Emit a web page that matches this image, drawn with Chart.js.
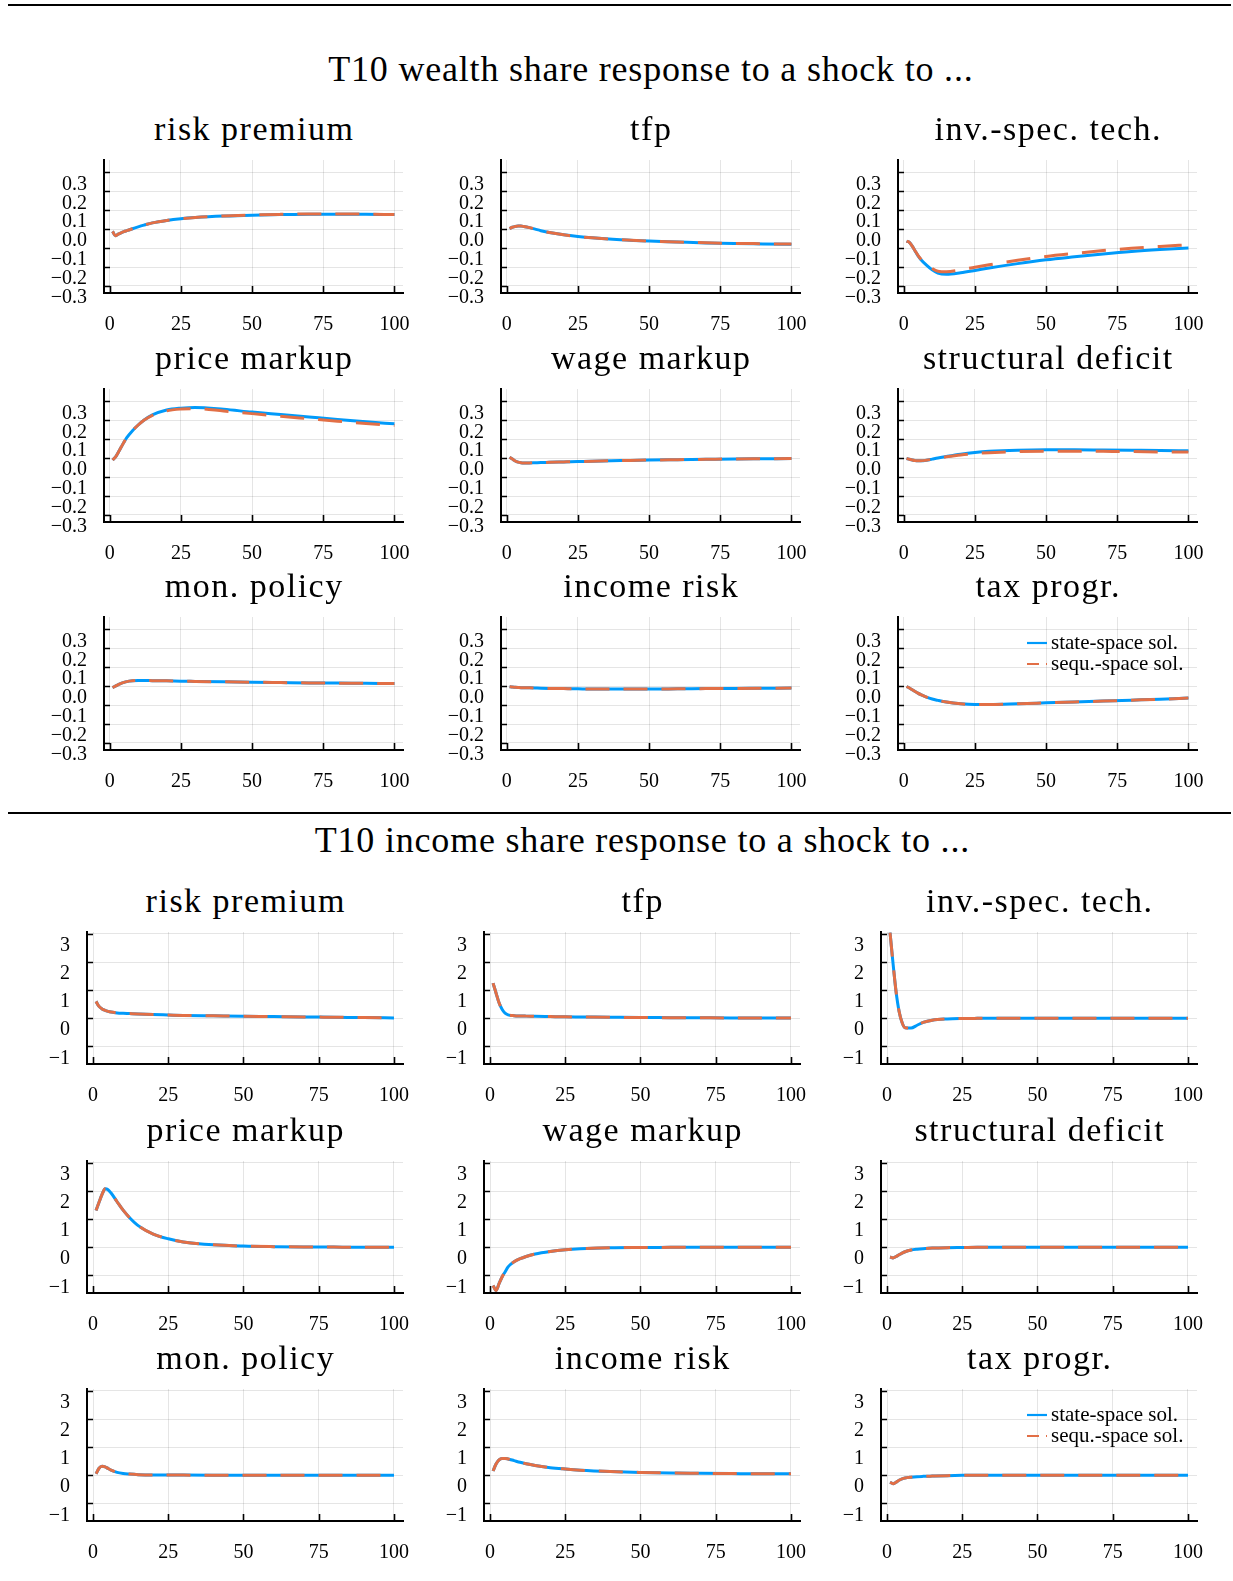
<!DOCTYPE html>
<html>
<head>
<meta charset="utf-8">
<script src="https://cdn.jsdelivr.net/npm/chart.js@4.4.1/dist/chart.umd.min.js"></script>
<style>
  html, body { margin: 0; padding: 0; background: #fff; }
  #fig { position: relative; width: 1233px; height: 1581px; overflow: hidden; background: #fff; }
  .rule { position: absolute; height: 2px; background: #000; }
  .t { position: absolute; font-family: 'Liberation Serif', serif; color: #000; text-align: center;
       white-space: nowrap; line-height: 1; }
  canvas { position: absolute; }
</style>
</head>
<body>
<div id="fig"></div>
<script>
// ---- horizons (quarters after the shock) ----
const horizon = [1, 2, 3, 4, 5, 6, 8, 10, 12, 15, 20, 25, 30, 40, 50, 60, 70, 80, 90, 100];

// ---- axis ticks ----
const xTicks = [0, 25, 50, 75, 100];
const xTickLabels = ['0', '25', '50', '75', '100'];
const wealthYTicks = [-0.3, -0.2, -0.1, 0.0, 0.1, 0.2, 0.3];
const wealthYTickLabels = ['\u22120.3', '\u22120.2', '\u22120.1', '0.0', '0.1', '0.2', '0.3'];
const incomeYTicks = [-1, 0, 1, 2, 3];
const incomeYTickLabels = ['\u22121', '0', '1', '2', '3'];

// ---- shock names ----
const shockNames = ['risk premium', 'tfp', 'inv.-spec. tech.', 'price markup', 'wage markup',
                    'structural deficit', 'mon. policy', 'income risk', 'tax progr.'];
const seriesNames = ['state-space sol.', 'sequ.-space sol.'];
const sectionTitles = ['T10 wealth share response to a shock to ...', 'T10 income share response to a shock to ...'];

// ---- T10 wealth share responses ----
const wRiskPremiumState = [-0.012, -0.035, -0.026, -0.019, -0.013, -0.008, 0.002, 0.012, 0.021, 0.033, 0.046, 0.055, 0.061, 0.069, 0.074, 0.077, 0.079, 0.079, 0.078, 0.077];
const wRiskPremiumSequ  = [-0.012, -0.035, -0.026, -0.019, -0.013, -0.008, 0.002, 0.012, 0.021, 0.033, 0.046, 0.055, 0.062, 0.070, 0.075, 0.078, 0.080, 0.080, 0.079, 0.077];
const wTfpState = [0.003, 0.010, 0.014, 0.016, 0.016, 0.014, 0.008, 0.000, -0.008, -0.018, -0.030, -0.039, -0.046, -0.056, -0.063, -0.068, -0.073, -0.076, -0.078, -0.080];
const wTfpSequ  = [0.003, 0.010, 0.014, 0.016, 0.016, 0.014, 0.008, 0.000, -0.008, -0.018, -0.030, -0.039, -0.046, -0.056, -0.063, -0.068, -0.072, -0.075, -0.077, -0.079];
const wInvTechState = [-0.063, -0.070, -0.090, -0.115, -0.140, -0.160, -0.190, -0.215, -0.232, -0.238, -0.230, -0.218, -0.205, -0.182, -0.162, -0.146, -0.131, -0.118, -0.108, -0.100];
const wInvTechSequ  = [-0.063, -0.070, -0.090, -0.114, -0.138, -0.157, -0.186, -0.208, -0.222, -0.225, -0.215, -0.201, -0.188, -0.164, -0.144, -0.128, -0.113, -0.101, -0.091, -0.083];
const wPriceMarkupState = [-0.010, 0.005, 0.030, 0.057, 0.084, 0.108, 0.145, 0.175, 0.200, 0.228, 0.254, 0.264, 0.268, 0.258, 0.243, 0.230, 0.217, 0.204, 0.192, 0.181];
const wPriceMarkupSequ  = [-0.010, 0.005, 0.030, 0.057, 0.084, 0.108, 0.145, 0.175, 0.200, 0.226, 0.250, 0.259, 0.261, 0.249, 0.235, 0.221, 0.208, 0.195, 0.183, 0.172];
const wWageMarkupState = [0.005, -0.005, -0.015, -0.021, -0.024, -0.025, -0.025, -0.024, -0.023, -0.022, -0.020, -0.018, -0.016, -0.013, -0.010, -0.008, -0.006, -0.004, -0.003, -0.002];
const wWageMarkupSequ  = [0.005, -0.005, -0.015, -0.021, -0.024, -0.025, -0.025, -0.024, -0.023, -0.022, -0.020, -0.018, -0.016, -0.013, -0.010, -0.008, -0.006, -0.004, -0.003, -0.002];
const wDeficitState = [-0.002, -0.006, -0.010, -0.013, -0.014, -0.014, -0.011, -0.005, 0.001, 0.009, 0.021, 0.030, 0.036, 0.042, 0.044, 0.044, 0.043, 0.042, 0.041, 0.039];
const wDeficitSequ  = [-0.002, -0.006, -0.010, -0.013, -0.014, -0.014, -0.011, -0.006, 0.000, 0.007, 0.017, 0.024, 0.029, 0.035, 0.037, 0.037, 0.036, 0.035, 0.033, 0.032];
const wMonPolicyState = [-0.008, 0.000, 0.008, 0.015, 0.020, 0.024, 0.028, 0.030, 0.030, 0.029, 0.028, 0.026, 0.025, 0.023, 0.021, 0.019, 0.017, 0.016, 0.015, 0.014];
const wMonPolicySequ  = [-0.008, 0.000, 0.008, 0.015, 0.020, 0.024, 0.028, 0.030, 0.030, 0.029, 0.028, 0.026, 0.025, 0.023, 0.021, 0.019, 0.017, 0.016, 0.015, 0.014];
const wIncomeRiskState = [-0.003, -0.005, -0.006, -0.007, -0.008, -0.008, -0.009, -0.010, -0.011, -0.012, -0.013, -0.014, -0.015, -0.015, -0.015, -0.014, -0.013, -0.012, -0.011, -0.010];
const wIncomeRiskSequ  = [-0.003, -0.005, -0.006, -0.007, -0.008, -0.008, -0.009, -0.010, -0.011, -0.012, -0.013, -0.014, -0.015, -0.015, -0.015, -0.014, -0.013, -0.012, -0.011, -0.010];
const wTaxProgState = [-0.002, -0.010, -0.019, -0.028, -0.037, -0.045, -0.058, -0.068, -0.075, -0.084, -0.093, -0.097, -0.097, -0.093, -0.088, -0.083, -0.079, -0.074, -0.069, -0.063];
const wTaxProgSequ  = [-0.002, -0.010, -0.019, -0.028, -0.037, -0.045, -0.058, -0.068, -0.075, -0.084, -0.093, -0.097, -0.097, -0.093, -0.088, -0.083, -0.079, -0.074, -0.069, -0.063];

// ---- T10 income share responses ----
const iRiskPremiumState = [0.60, 0.42, 0.33, 0.28, 0.245, 0.22, 0.19, 0.175, 0.165, 0.15, 0.13, 0.115, 0.10, 0.085, 0.07, 0.058, 0.045, 0.035, 0.022, 0.012];
const iRiskPremiumSequ  = [0.60, 0.42, 0.33, 0.28, 0.245, 0.22, 0.19, 0.175, 0.165, 0.15, 0.13, 0.115, 0.10, 0.085, 0.07, 0.058, 0.045, 0.035, 0.022, 0.012];
const iTfpState = [1.25, 0.90, 0.55, 0.32, 0.18, 0.12, 0.09, 0.08, 0.075, 0.07, 0.06, 0.05, 0.045, 0.035, 0.025, 0.02, 0.015, 0.01, 0.01, 0.005];
const iTfpSequ  = [1.25, 0.90, 0.55, 0.32, 0.18, 0.12, 0.09, 0.08, 0.075, 0.07, 0.06, 0.05, 0.045, 0.035, 0.025, 0.02, 0.015, 0.01, 0.01, 0.005];
const iInvTechState = [3.05, 1.95, 0.95, 0.25, -0.15, -0.34, -0.35, -0.25, -0.15, -0.07, -0.025, -0.01, -0.005, 0, 0, 0, 0, 0, 0, 0];
const iInvTechSequ  = [3.05, 1.95, 0.95, 0.25, -0.15, -0.34, -0.35, -0.25, -0.15, -0.07, -0.025, -0.01, -0.005, 0, 0, 0, 0, 0, 0, 0];
const iPriceMarkupState = [1.31, 1.60, 1.88, 2.08, 2.05, 1.93, 1.62, 1.32, 1.07, 0.77, 0.47, 0.30, 0.19, 0.085, 0.04, 0.02, 0.01, 0.005, 0, 0];
const iPriceMarkupSequ  = [1.31, 1.60, 1.88, 2.08, 2.05, 1.93, 1.62, 1.32, 1.07, 0.77, 0.47, 0.30, 0.19, 0.085, 0.04, 0.02, 0.01, 0.005, 0, 0];
const iWageMarkupState = [-1.36, -1.54, -1.30, -1.06, -0.88, -0.70, -0.52, -0.41, -0.33, -0.24, -0.15, -0.09, -0.055, -0.02, -0.01, -0.005, 0, 0, 0, 0];
const iWageMarkupSequ  = [-1.36, -1.54, -1.30, -1.06, -0.88, -0.70, -0.52, -0.41, -0.33, -0.24, -0.15, -0.09, -0.055, -0.02, -0.01, -0.005, 0, 0, 0, 0];
const iDeficitState = [-0.35, -0.38, -0.33, -0.27, -0.21, -0.16, -0.10, -0.07, -0.05, -0.03, -0.015, -0.01, -0.005, 0, 0, 0, 0, 0, 0, 0];
const iDeficitSequ  = [-0.35, -0.38, -0.33, -0.27, -0.21, -0.16, -0.10, -0.07, -0.05, -0.03, -0.015, -0.01, -0.005, 0, 0, 0, 0, 0, 0, 0];
const iMonPolicyState = [0.05, 0.25, 0.32, 0.30, 0.24, 0.18, 0.10, 0.06, 0.04, 0.02, 0.01, 0.01, 0.005, 0, 0, 0, 0, 0, 0, 0];
const iMonPolicySequ  = [0.05, 0.25, 0.32, 0.30, 0.24, 0.18, 0.10, 0.06, 0.04, 0.02, 0.01, 0.01, 0.005, 0, 0, 0, 0, 0, 0, 0];
const iIncomeRiskState = [0.15, 0.40, 0.55, 0.60, 0.60, 0.58, 0.52, 0.46, 0.41, 0.35, 0.27, 0.22, 0.18, 0.13, 0.10, 0.08, 0.07, 0.06, 0.05, 0.05];
const iIncomeRiskSequ  = [0.15, 0.40, 0.55, 0.60, 0.60, 0.58, 0.52, 0.46, 0.41, 0.35, 0.27, 0.22, 0.18, 0.13, 0.10, 0.08, 0.07, 0.06, 0.05, 0.05];
const iTaxProgState = [-0.25, -0.30, -0.25, -0.18, -0.13, -0.10, -0.07, -0.05, -0.04, -0.03, -0.015, -0.005, 0, 0, 0, 0, 0, 0, 0, 0];
const iTaxProgSequ  = [-0.25, -0.30, -0.25, -0.18, -0.13, -0.10, -0.07, -0.05, -0.04, -0.03, -0.015, -0.005, 0, 0, 0, 0, 0, 0, 0, 0];

const wealthSeries = [
  [wRiskPremiumState, wRiskPremiumSequ], [wTfpState, wTfpSequ], [wInvTechState, wInvTechSequ],
  [wPriceMarkupState, wPriceMarkupSequ], [wWageMarkupState, wWageMarkupSequ], [wDeficitState, wDeficitSequ],
  [wMonPolicyState, wMonPolicySequ], [wIncomeRiskState, wIncomeRiskSequ], [wTaxProgState, wTaxProgSequ]
];
const incomeSeries = [
  [iRiskPremiumState, iRiskPremiumSequ], [iTfpState, iTfpSequ], [iInvTechState, iInvTechSequ],
  [iPriceMarkupState, iPriceMarkupSequ], [iWageMarkupState, iWageMarkupSequ], [iDeficitState, iDeficitSequ],
  [iMonPolicyState, iMonPolicySequ], [iIncomeRiskState, iIncomeRiskSequ], [iTaxProgState, iTaxProgSequ]
];

// ---- styling ----
const SERIF = "'Liberation Serif', 'Times New Roman', serif";
const BLUE = '#009AFA';
const ORANGE = '#E26F46';
Chart.defaults.font.family = SERIF;
Chart.defaults.font.size = 20;
Chart.defaults.color = '#000';

// Inward tick marks on both axes
const tickMarks = {
  id: 'tickMarks',
  afterDraw(chart) {
    const { ctx, chartArea: a, scales: { x, y } } = chart;
    ctx.save();
    ctx.strokeStyle = '#000';
    ctx.lineWidth = 1.6;
    ctx.beginPath();
    x.ticks.forEach(t => {
      const px = Math.round(x.getPixelForValue(t.value)) + 0.5;
      ctx.moveTo(px, a.bottom);
      ctx.lineTo(px, a.bottom - 7);
    });
    y.ticks.forEach(t => {
      const py = Math.round(y.getPixelForValue(t.value)) + 0.5;
      ctx.moveTo(a.left, py);
      ctx.lineTo(a.left + 6, py);
    });
    ctx.stroke();
    ctx.restore();
  }
};

// Small legend in the upper right of the plot area
const miniLegend = {
  id: 'miniLegend',
  afterDatasetsDraw(chart, args, opts) {
    if (!opts.show) return;
    const { ctx, chartArea: a } = chart;
    ctx.save();
    ctx.font = '21px ' + SERIF;
    ctx.textBaseline = 'middle';
    ctx.textAlign = 'left';
    chart.data.datasets.forEach((ds, i) => {
      const yy = a.top + 26 + i * 21;
      ctx.strokeStyle = ds.borderColor;
      ctx.lineWidth = 2.2;
      ctx.setLineDash(i ? [12, 7] : []);
      ctx.beginPath();
      ctx.moveTo(a.right - 170, yy);
      ctx.lineTo(a.right - 150, yy);
      ctx.stroke();
      ctx.setLineDash([]);
      ctx.fillStyle = '#000';
      ctx.fillText(ds.label, a.right - 146, yy);
    });
    ctx.restore();
  }
};

const fig = document.getElementById('fig');

function addRule(x1, x2, y) {
  const d = document.createElement('div');
  d.className = 'rule';
  d.style.left = x1 + 'px';
  d.style.width = (x2 - x1) + 'px';
  d.style.top = y + 'px';
  fig.appendChild(d);
}

// text placed by its baseline, centred on cx
function addText(str, cx, baseline, size, spacing) {
  const d = document.createElement('div');
  d.className = 't';
  d.textContent = str;
  d.style.fontSize = size + 'px';
  d.style.letterSpacing = spacing + 'px';
  d.style.width = '800px';
  d.style.left = (cx - 400 + spacing / 2) + 'px';
  d.style.top = (baseline - 0.8375 * size) + 'px';
  fig.appendChild(d);
}

const PAD_L = 100, PAD_T = 40, PAD_R = 40, PAD_B = 70;

function addPanel(left, top, w, h, state, sequ, yMin, yMax, yTicks, yLabels, withLegend) {
  const c = document.createElement('canvas');
  c.width = PAD_L + w + PAD_R;
  c.height = PAD_T + h + PAD_B;
  c.style.left = (left - PAD_L) + 'px';
  c.style.top = (top - PAD_T) + 'px';
  fig.appendChild(c);
  const pts = arr => horizon.map((x, i) => ({ x: x, y: arr[i] }));
  new Chart(c, {
    type: 'line',
    data: {
      datasets: [
        // the solid state-space line sits underneath the dashed sequence-space line
        { label: seriesNames[0], data: pts(state), borderColor: BLUE, borderWidth: 3, order: 2,
          pointRadius: 0, cubicInterpolationMode: 'monotone', fill: false },
        { label: seriesNames[1], data: pts(sequ), borderColor: ORANGE, borderWidth: 3, order: 1,
          borderDash: [24, 14], pointRadius: 0, cubicInterpolationMode: 'monotone', fill: false }
      ]
    },
    options: {
      responsive: false,
      animation: false,
      devicePixelRatio: 1,
      events: [],
      layout: { padding: { left: 0, top: PAD_T, right: PAD_R, bottom: 0 } },
      plugins: {
        legend: { display: false },
        tooltip: { enabled: false },
        miniLegend: { show: withLegend }
      },
      scales: {
        x: {
          type: 'linear', min: -2, max: 103,
          afterBuildTicks: s => { s.ticks = xTicks.map(v => ({ value: v })); },
          afterFit: s => { s.height = PAD_B; },
          grid: { color: 'rgba(0,0,0,0.1)', lineWidth: 1, drawTicks: false },
          border: { display: true, color: '#000', width: 2 },
          ticks: { padding: 20, maxRotation: 0, autoSkip: false, color: '#000',
                   callback: (v, i) => xTickLabels[i] }
        },
        y: {
          type: 'linear', min: yMin, max: yMax,
          afterBuildTicks: s => { s.ticks = yTicks.map(v => ({ value: v })); },
          afterFit: s => { s.width = PAD_L; },
          grid: { color: 'rgba(0,0,0,0.1)', lineWidth: 1, drawTicks: false },
          border: { display: true, color: '#000', width: 2 },
          ticks: { padding: 17, labelOffset: 12, autoSkip: false, color: '#000',
                   callback: (v, i) => yLabels[i] }
        }
      }
    },
    plugins: [tickMarks, miniLegend]
  });
}

// ---- rules and section titles ----
addRule(8, 1231, 4);
addRule(8, 1231, 812);
addText(sectionTitles[0], 650.5, 81, 36, 0.8);
addText(sectionTitles[1], 642, 852, 36, 0.8);

// ---- wealth panels ----
const wCols = [104, 501, 898], wRows = [160, 389, 617], wW = 299, wH = 133;
for (let k = 0; k < 9; k++) {
  const L = wCols[k % 3], T = wRows[Math.floor(k / 3)];
  addText(shockNames[k], L + wW / 2, T - 20, 34, 1.5);
  addPanel(L, T, wW, wH, wealthSeries[k][0], wealthSeries[k][1], -0.337, 0.365,
           wealthYTicks, wealthYTickLabels, k === 8);
}

// ---- income panels ----
const iCols = [87, 484, 881], iRows = [932, 1161, 1389], iW = 316, iH = 132;
for (let k = 0; k < 9; k++) {
  const L = iCols[k % 3], T = iRows[Math.floor(k / 3)];
  addText(shockNames[k], L + iW / 2, T - 20, 34, 1.5);
  addPanel(L, T, iW, iH, incomeSeries[k][0], incomeSeries[k][1], -1.63, 3.071,
           incomeYTicks, incomeYTickLabels, k === 8);
}
</script>
</body>
</html>
